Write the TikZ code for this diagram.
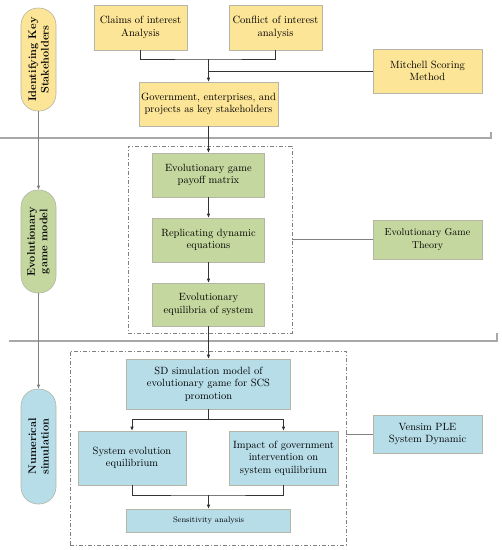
\documentclass[tikz,border=0pt]{standalone}
\usepackage{xcolor}
\usepackage{tikz}
\usetikzlibrary{arrows.meta, positioning, calc}
\definecolor{stakecolor}{HTML}{FCE597}
\definecolor{gamecolor}{HTML}{C4D79E}
\definecolor{simcolor}{HTML}{B7DDE8}
\definecolor{edgecolor}{HTML}{B5B5A8}
\definecolor{sepcolor}{HTML}{A8A8A8}

\begin{document}
\begin{tikzpicture}[x=1pt, y=-1pt,
    box/.style={draw=edgecolor, line width=0.6pt, align=center,
                font=\fontsize{10.5}{12.5}\selectfont, inner sep=2pt},
    stage/.style={draw=edgecolor, line width=0.6pt, rotate=90, rounded corners=17pt,
                  minimum height=35pt, align=center, font=\fontsize{11}{12.5}\selectfont\bfseries, inner sep=1pt},
    grp/.style={draw=gray, line width=0.6pt, dash pattern=on 4pt off 2pt on 1pt off 2pt},
    link/.style={draw=black!80, line width=0.6pt},
    arr/.style={link, -{Latex[length=4pt, width=3.5pt]}},
    sep/.style={draw=sepcolor, line width=1.2pt}
]
    \useasboundingbox (0,0) rectangle (502,550);

    % --- separators ---
    \draw[sep] (0,138) -- (491,138) -- (491,132);
    \draw[sep] (9,341) -- (497,341) -- (497,333);

    % --- stages ---
    \node[stage, fill=stakecolor, minimum width=103pt] (st1) at (38.5,59.5) {Identifying Key\\Stakeholders};
    \node[stage, fill=gamecolor, minimum width=103pt] (st2) at (38.5,241.5) {Evolutionary\\game model};
    \node[stage, fill=simcolor, minimum width=115pt] (st3) at (38.5,446.5) {Numerical\\simulation};
    \draw[arr, draw=gray] (st1.west) -- (st2.east);
    \draw[arr, draw=gray] (st2.west) -- (st3.east);

    % --- key stakeholders ---
    \node[box, fill=stakecolor, minimum width=93pt, minimum height=45pt] (claim) at (140.5,27.5) {Claims of interest\\Analysis};
    \node[box, fill=stakecolor, minimum width=93pt, minimum height=45pt] (confl) at (275.5,27.5) {Conflict of interest\\analysis};
    \node[box, fill=stakecolor, minimum width=109pt, minimum height=44pt] (mitch) at (427.5,71) {Mitchell Scoring\\Method};
    \node[box, fill=stakecolor, minimum width=135pt, minimum height=44pt] (gov) at (208.5,104) {Government, enterprises, and\\projects as key stakeholders};
    \coordinate (j1) at (208.5,59);
    \draw[link] (claim.south) |- (j1) -| (confl.south);
    \draw[arr] (j1) -- (gov.north);
    \draw[link] (j1 |- mitch.west) -- (mitch.west);

    % --- evolutionary game ---
    \node[grp, minimum width=164pt, minimum height=187pt] (grp1) at (210,239.5) {};
    \node[box, fill=gamecolor, minimum width=112pt, minimum height=44pt] (payoff) at (208.5,175) {Evolutionary game\\payoff matrix};
    \node[box, fill=gamecolor, minimum width=112pt, minimum height=44pt] (repl) at (208.5,240) {Replicating dynamic\\equations};
    \node[box, fill=gamecolor, minimum width=112pt, minimum height=43pt] (equil) at (208.5,304.5) {Evolutionary\\equilibria of system};
    \node[box, fill=gamecolor, minimum width=109pt, minimum height=39pt, font=\fontsize{10}{12.5}\selectfont] (egt) at (427.5,239.5) {Evolutionary Game\\Theory};
    \draw[arr] (gov.south) -- (payoff.north);
    \draw[arr] (payoff) -- (repl);
    \draw[arr] (repl) -- (equil);
    \draw[link, draw=gray] (grp1.east |- egt.west) -- (egt.west);

    % --- numerical simulation ---
    \node[grp, minimum width=276pt, minimum height=194pt] (grp2) at (208,448) {};
    \node[box, fill=simcolor, minimum width=164pt, minimum height=50pt] (sd) at (208.5,384) {SD simulation model of\\evolutionary game for SCS\\promotion};
    \node[box, fill=simcolor, minimum width=108pt, minimum height=54pt] (syseq) at (132,458) {System evolution\\equilibrium};
    \node[box, fill=simcolor, minimum width=109pt, minimum height=54pt] (impact) at (283.5,458) {Impact of government\\intervention on\\system equilibrium};
    \node[box, fill=simcolor, minimum width=164pt, minimum height=23pt, font=\footnotesize] (sens) at (208.5,520.5) {Sensitivity analysis};
    \node[box, fill=simcolor, minimum width=109pt, minimum height=38pt] (vensim) at (427.5,434) {Vensim PLE\\System Dynamic};
    \draw[arr] (equil.south) -- (sd.north);
    \coordinate (j2) at (208.5,419);
    \coordinate (j3) at (208.5,495);
    \draw[link] (sd.south) -- (j2);
    \draw[arr] (j2) -| (syseq.north);
    \draw[arr] (j2) -| (impact.north);
    \draw[link] (syseq.south) |- (j3) -| (impact.south);
    \draw[arr] (j3) -- (sens.north);
    \draw[link, draw=gray] (grp2.east |- vensim.west) -- (vensim.west);
\end{tikzpicture}
\end{document}
